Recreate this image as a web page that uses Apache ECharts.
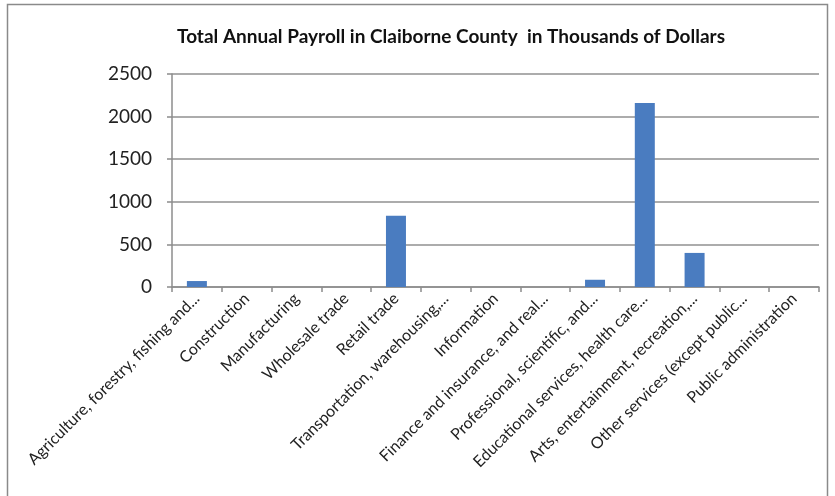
<!DOCTYPE html>
<html>
<head>
<meta charset="utf-8">
<script src="https://cdn.jsdelivr.net/npm/echarts@6/dist/echarts.min.js"></script>
<style>
  html, body { margin: 0; padding: 0; background: #fff; }
  #chart { width: 835px; height: 496px; }
</style>
</head>
<body>
<div id="chart"></div>
<script>
// Industry sectors (labels truncated as in the source spreadsheet)
const categories = [
  'Agriculture, forestry, fishing and...',
  'Construction',
  'Manufacturing',
  'Wholesale trade',
  'Retail trade',
  'Transportation, warehousing,...',
  'Information',
  'Finance and insurance, and real...',
  'Professional, scientific, and...',
  'Educational services, health care...',
  'Arts, entertainment, recreation,...',
  'Other services (except public...',
  'Public administration'
];

// Annual payroll, thousands of dollars
const payroll = [70, 0, 0, 0, 835, 0, 0, 0, 85, 2160, 400, 0, 0];

const yTicks = { min: 0, max: 2500, interval: 500 };

const chart = echarts.init(document.getElementById('chart'), null, { renderer: 'canvas' });

const axisGrey = '#8c8c8c';
const fontFam = 'Lato, "Open Sans", sans-serif';

chart.setOption({
  backgroundColor: '#ffffff',
  animation: false,
  title: {
    text: 'Total Annual Payroll in Claiborne County  in Thousands of Dollars',
    left: 446,
    top: 22,
    textAlign: 'center',
    textStyle: { fontFamily: fontFam, fontSize: 19, fontWeight: 'bold', color: '#111' }
  },
  graphic: [{
    type: 'rect',
    shape: { x: 7.5, y: 4.5, width: 820, height: 500 },
    style: { fill: 'none', stroke: '#8a8a8a', lineWidth: 1.5 },
    silent: true
  }],
  grid: { left: 172, right: 16, top: 74, bottom: 209, containLabel: false },
  xAxis: {
    type: 'category',
    data: categories,
    boundaryGap: true,
    axisLine: { show: true, lineStyle: { color: axisGrey, width: 1.5 } },
    axisTick: { show: true, interval: 0, length: 5, lineStyle: { color: axisGrey, width: 1.5 } },
    axisLabel: {
      interval: 0,
      rotate: 45,
      margin: 9,
      fontFamily: fontFam,
      fontSize: 16,
      color: '#222'
    }
  },
  yAxis: {
    type: 'value',
    min: yTicks.min,
    max: yTicks.max,
    interval: yTicks.interval,
    axisLine: { show: true, lineStyle: { color: axisGrey, width: 1.5 } },
    axisTick: { show: true, length: 5, lineStyle: { color: axisGrey, width: 1.5 } },
    splitLine: { show: true, lineStyle: { color: '#909090', width: 1.5 } },
    axisLabel: {
      fontFamily: fontFam,
      fontSize: 19,
      color: '#222',
      margin: 20,
      formatter: v => String(v)
    }
  },
  series: [{
    type: 'bar',
    data: payroll,
    barWidth: 20,
    itemStyle: { color: '#4a7cc0' }
  }]
});
</script>
</body>
</html>
